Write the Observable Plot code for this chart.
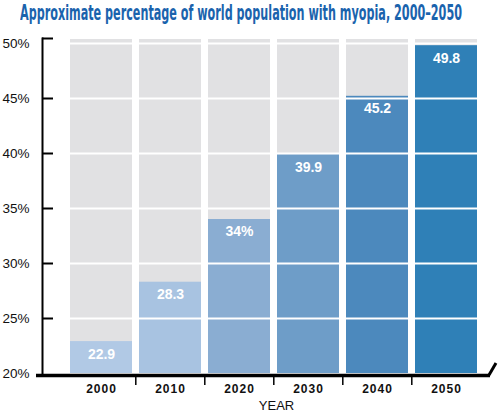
<!DOCTYPE html>
<html>
<head>
<meta charset="utf-8">
<script src="https://cdn.jsdelivr.net/npm/d3@7"></script>
<script src="https://cdn.jsdelivr.net/npm/@observablehq/plot@0.6"></script>
<style>
  html, body { margin: 0; padding: 0; background: white; }
  #title { height: 32px; overflow: visible; white-space: nowrap; }
  #title span {
    display: inline-block; margin-left: 20px;
    font-family: "DejaVu Sans Condensed", "DejaVu Sans", sans-serif;
    font-stretch: condensed; font-weight: bold; font-size: 22px; line-height: 26px;
    color: #1a63ad; transform-origin: 0 0;
  }
  g[aria-label="x-axis tick label"] text { letter-spacing: 1px; }
</style>
</head>
<body>
<div id="title"><span>Approximate percentage of world population with myopia, 2000–2050</span></div>
<div id="chart"></div>
<script>
const years = ["2000", "2010", "2020", "2030", "2040", "2050"];
const values = [22.9, 28.3, 34, 39.9, 45.2, 49.8];
const labels = ["22.9", "28.3", "34%", "39.9", "45.2", "49.8"];
const colors = ["#b1c9e5", "#a8c3e1", "#8aadd2", "#6e9dc8", "#4c89bd", "#2f80b7"];
const yTicks = [20, 25, 30, 35, 40, 45, 50];
const xTitle = "YEAR";

const data = years.map((year, i) => ({year, value: values[i], label: labels[i], color: colors[i]}));
const yMin = yTicks[0], yMax = yTicks[yTicks.length - 1];

const chart = Plot.plot({
  width: 499, height: 382,
  marginTop: 11, marginBottom: 41, marginLeft: 42, marginRight: 14,
  x: {type: "band", domain: years, padding: 0.1, insetLeft: 20, axis: null},
  y: {domain: [yMin, yMax], axis: null},
  color: {type: "identity"},
  style: {fontFamily: "'Liberation Sans', Arial, sans-serif", background: "white", overflow: "visible", color: "#111"},
  marks: [
    Plot.barY(data, {x: "year", y1: yMin, y2: yMax, fill: "#e1e1e3", insetTop: -4}),
    Plot.barY(data, {x: "year", y1: yMin, y2: "value", fill: "color"}),
    Plot.ruleY(yTicks.slice(1), {stroke: "white", strokeWidth: 2, insetLeft: 20}),
    Plot.text(data, {x: "year", y: "value", text: "label", dy: 12.5, fill: "white", fontWeight: "bold", fontSize: 14, letterSpacing: 1}),
    Plot.axisY({anchor: "left", ticks: yTicks, tickFormat: d => d + "%", tickSize: 0, tickPadding: 13, fontSize: 13.5, label: null}),
    Plot.frame({anchor: "left", stroke: "black", strokeWidth: 2, insetTop: -5, insetBottom: -2}),
    Plot.ruleY(yTicks.slice(1, -1), {stroke: "black", strokeWidth: 2, insetRight: 432}),
    Plot.ruleY([yMax], {stroke: "black", strokeWidth: 2, insetRight: 432, dy: -5}),
    Plot.ruleY([yMin], {stroke: "black", strokeWidth: 3.5, dy: 2, insetLeft: -6, insetRight: -5}),
    Plot.ruleX(years.slice(1), {x: d => d, dx: -34.7, stroke: "black", strokeWidth: 1.5, insetTop: 332, insetBottom: -12}),
    Plot.axisX({anchor: "bottom", tickSize: 0, tickPadding: 11, fontSize: 12, fontWeight: "bold", label: null}),
    Plot.text([xTitle], {frameAnchor: "bottom", text: d => d, dy: 36, dx: 12.5, fontSize: 13, letterSpacing: 0.5}),
    (index, scales, values, dims) => {
      const x0 = dims.width - dims.marginRight + 5;
      const y0 = dims.height - dims.marginBottom + 2;
      return d3.create("svg:path")
        .attr("d", `M${x0 - 1},${y0}L${x0 + 6},${y0 - 12}`)
        .attr("stroke", "black").attr("stroke-width", 3).attr("fill", "none")
        .node();
    }
  ]
});
document.getElementById("chart").appendChild(chart);

const span = document.querySelector("#title span");
const w = span.getBoundingClientRect().width;
span.style.transform = `scaleX(${442 / w})`;
</script>
</body>
</html>
